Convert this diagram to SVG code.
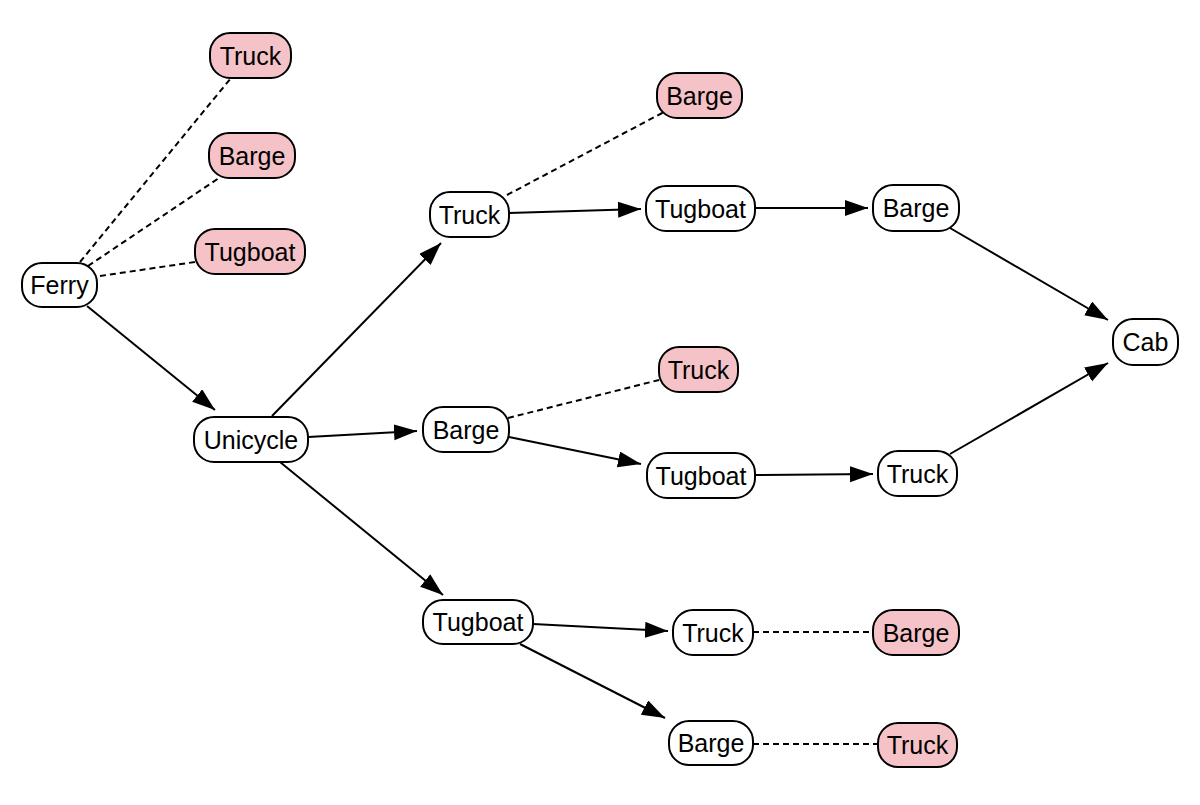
<svg xmlns="http://www.w3.org/2000/svg" width="1200" height="805" viewBox="0 0 1200 805">
<defs>
<style>
.n rect{fill:#fff;stroke:#000;stroke-width:2}
.p rect{fill:#f5c3c7;stroke:#000;stroke-width:2}
text{font-family:"Liberation Sans",Arial,sans-serif;font-size:25px;fill:#000;text-anchor:middle}
.e line{stroke:#000;stroke-width:2;fill:none}
.e line.s{marker-end:url(#ah)}
.e line.d{stroke-dasharray:6,4}
</style>
<marker id="ah" markerUnits="userSpaceOnUse" markerWidth="25" markerHeight="17" refX="23" refY="8" orient="auto">
<path d="M0,0 L23,8 L0,16 z" fill="#000"/>
</marker>
</defs>
<rect width="1200" height="805" fill="#fff"/>
<g id="connectors" class="e">
<line class="s" x1="87" y1="306" x2="215" y2="410"/>
<line class="s" x1="272" y1="416" x2="441" y2="243"/>
<line class="s" x1="308" y1="437" x2="417" y2="431"/>
<line class="s" x1="280" y1="462" x2="443" y2="595"/>
<line class="s" x1="509" y1="213" x2="641" y2="209"/>
<line class="s" x1="755" y1="208" x2="868" y2="208"/>
<line class="s" x1="950" y1="228" x2="1108" y2="320"/>
<line class="s" x1="950" y1="454" x2="1108" y2="363"/>
<line class="s" x1="509" y1="437" x2="641" y2="464"/>
<line class="s" x1="755" y1="475" x2="873" y2="474"/>
<line class="s" x1="533" y1="624" x2="668" y2="631"/>
<line class="s" x1="520" y1="644" x2="665" y2="718"/>
<line class="d" x1="80" y1="262" x2="231" y2="78"/>
<line class="d" x1="88" y1="266" x2="219" y2="178"/>
<line class="d" x1="100" y1="276" x2="195" y2="262"/>
<line class="d" x1="507" y1="195" x2="664" y2="112"/>
<line class="d" x1="508" y1="418" x2="659" y2="380"/>
<line class="d" x1="753" y1="632" x2="873" y2="632"/>
<line class="d" x1="753" y1="744" x2="878" y2="744"/>
</g>
<g id="ferry" class="n"><rect x="22" y="263" width="75" height="44" rx="20"/><text x="59.5" y="294">Ferry</text></g>
<g id="truck1" class="p"><rect x="210" y="33" width="81" height="45" rx="20"/><text x="250.5" y="64.5">Truck</text></g>
<g id="barge1" class="p"><rect x="209" y="133" width="86" height="45" rx="20"/><text x="252" y="164.5">Barge</text></g>
<g id="tugboat1" class="p"><rect x="195" y="229" width="110" height="45" rx="20"/><text x="250" y="260.5">Tugboat</text></g>
<g id="unicycle" class="n"><rect x="194" y="417" width="114" height="45" rx="20"/><text x="251" y="448.5">Unicycle</text></g>
<g id="truck2" class="n"><rect x="430" y="192" width="79" height="45" rx="20"/><text x="469.5" y="223.5">Truck</text></g>
<g id="barge2" class="n"><rect x="423" y="407" width="86" height="45" rx="20"/><text x="466" y="438.5">Barge</text></g>
<g id="tugboat2" class="n"><rect x="423" y="600" width="110" height="44" rx="20"/><text x="478" y="631">Tugboat</text></g>
<g id="barge3" class="p"><rect x="657" y="73" width="85" height="45" rx="20"/><text x="699.5" y="104.5">Barge</text></g>
<g id="tugboat3" class="n"><rect x="646" y="186" width="109" height="45" rx="20"/><text x="700.5" y="217.5">Tugboat</text></g>
<g id="truck3" class="p"><rect x="659" y="347" width="79" height="45" rx="20"/><text x="698.5" y="378.5">Truck</text></g>
<g id="tugboat4" class="n"><rect x="647" y="453" width="108" height="45" rx="20"/><text x="701" y="484.5">Tugboat</text></g>
<g id="truck4" class="n"><rect x="673" y="610" width="80" height="45" rx="20"/><text x="713" y="641.5">Truck</text></g>
<g id="barge4" class="n"><rect x="669" y="721" width="84" height="44" rx="20"/><text x="711" y="752">Barge</text></g>
<g id="barge5" class="n"><rect x="873" y="185" width="86" height="46" rx="20"/><text x="916" y="217">Barge</text></g>
<g id="cab" class="n"><rect x="1113" y="319" width="65" height="46" rx="20"/><text x="1145.5" y="351">Cab</text></g>
<g id="truck5" class="n"><rect x="878" y="451" width="79" height="45" rx="20"/><text x="917.5" y="482.5">Truck</text></g>
<g id="barge6" class="p"><rect x="873" y="610" width="86" height="45" rx="20"/><text x="916" y="641.5">Barge</text></g>
<g id="truck6" class="p"><rect x="878" y="723" width="79" height="44" rx="20"/><text x="917.5" y="754">Truck</text></g>
</svg>
